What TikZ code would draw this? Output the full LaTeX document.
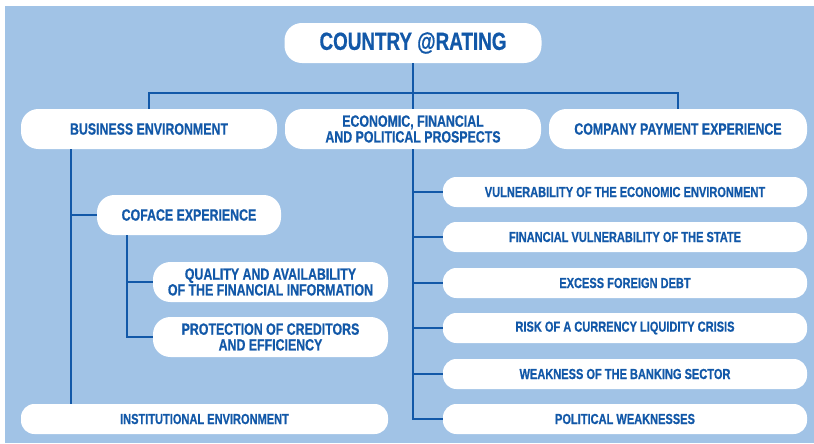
\documentclass[tikz,border=0pt]{standalone}
\usepackage{fontspec}
\newfontfamily\condfont[FakeStretch=0.76,FakeBold=0.6]{Liberation Sans}
\definecolor{panelblue}{RGB}{161,195,230}
\definecolor{inkblue}{RGB}{18,88,168}
\tikzset{
pillbox/.style={fill=white, rounded corners=13pt, inner sep=0pt, align=center, text=inkblue,
  minimum height=30pt, font=\condfont\bfseries\fontsize{12.2}{11.8}\selectfont},
slimbox/.style={pillbox, rounded corners=10pt, minimum height=22.5pt,
  font=\condfont\bfseries\fontsize{10.9}{12}\selectfont},
link/.style={draw=inkblue, line width=1.6pt}}

\begin{document}
\begin{tikzpicture}[x=0.75pt,y=0.75pt,yscale=-1,xscale=1]
\useasboundingbox (0,0) rectangle (814,443);
%Shape: Rectangle (panel)
\fill[panelblue] (5,6) rectangle (814,443);

% Top node
\node[pillbox, minimum width=192.75pt, font=\condfont\bfseries\fontsize{18.6}{20}\selectfont] (rating) at (413,43) {COUNTRY @RATING};

% Second row
\node[pillbox, minimum width=192pt] (business) at (149,129) {BUSINESS ENVIRONMENT};
\node[pillbox, minimum width=192pt] (economic) at (413,129) {ECONOMIC, FINANCIAL\\AND POLITICAL PROSPECTS};
\node[pillbox, minimum width=193.5pt] (company) at (678,129) {COMPANY PAYMENT EXPERIENCE};

% Business environment branch
\node[pillbox, minimum width=138pt] (coface) at (189,215) {COFACE EXPERIENCE};
\node[pillbox, minimum width=176.25pt] (quality) at (270.5,282) {QUALITY AND AVAILABILITY\\OF THE FINANCIAL INFORMATION};
\node[pillbox, minimum width=176.25pt] (protection) at (270.5,337) {PROTECTION OF CREDITORS\\AND EFFICIENCY};
\node[slimbox, minimum width=275.25pt] (institutional) at (204.5,419) {INSTITUTIONAL ENVIRONMENT};

% Economic prospects branch
\node[slimbox, minimum width=273pt] (econvuln) at (625,192) {VULNERABILITY OF THE ECONOMIC ENVIRONMENT};
\node[slimbox, minimum width=273pt] (statevuln) at (625,237) {FINANCIAL VULNERABILITY OF THE STATE};
\node[slimbox, minimum width=273pt] (debt) at (625,283) {EXCESS FOREIGN DEBT};
\node[slimbox, minimum width=273pt] (liquidity) at (625,328) {RISK OF A CURRENCY LIQUIDITY CRISIS};
\node[slimbox, minimum width=273pt] (banking) at (625,374) {WEAKNESS OF THE BANKING SECTOR};
\node[slimbox, minimum width=273pt] (political) at (625,419) {POLITICAL WEAKNESSES};

% Connectors
\coordinate (split) at (413,93);
\coordinate (bstem) at (71,149);
\coordinate (cstem) at (127,235);
\draw[link] (rating) -- (economic);
\draw[link] (business.north) |- (split) -| (company.north);
\draw[link] (bstem) -- (bstem |- institutional.north);
\draw[link] (bstem) |- (coface.west);
\foreach \n in {quality,protection}
  \draw[link] (cstem) |- (\n.west);
\foreach \n in {econvuln,statevuln,debt,liquidity,banking,political}
  \draw[link] (economic.south) |- (\n.west);

\end{tikzpicture}
\end{document}
